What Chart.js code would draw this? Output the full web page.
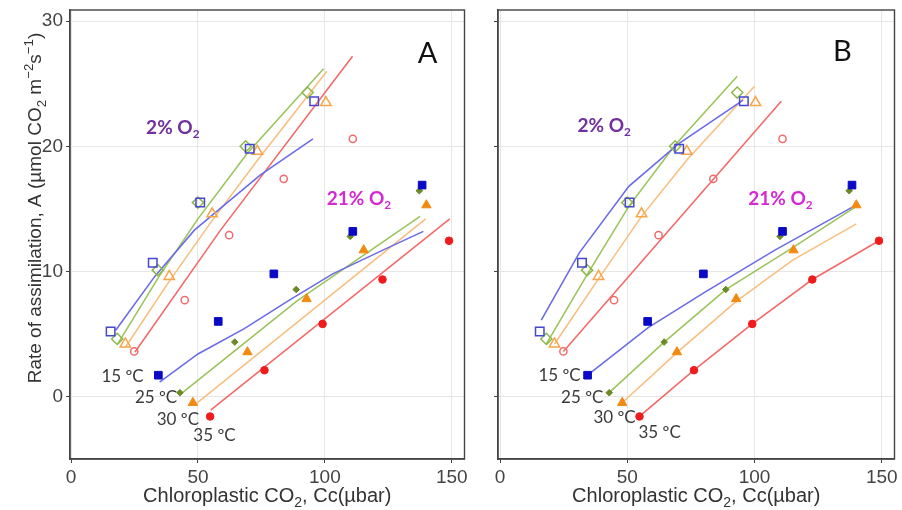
<!DOCTYPE html>
<html>
<head>
<meta charset="utf-8">
<script src="https://cdn.jsdelivr.net/npm/chart.js@4.4.1/dist/chart.umd.min.js"></script>
<style>
  html, body { margin: 0; padding: 0; background: #ffffff; }
  #wrap { position: relative; width: 902px; height: 510px; overflow: hidden; background: #ffffff; }
  #cA { position: absolute; left: 0; top: 0; }
  #cB { position: absolute; left: 472px; top: 0; }
</style>
</head>
<body>
<div id="wrap">
  <canvas id="cA" width="472" height="510"></canvas>
  <canvas id="cB" width="430" height="510"></canvas>
</div>
<script>
// ---- Measured net assimilation A (µmol CO2 m-2 s-1) against chloroplastic CO2 Cc (µbar) ----
// 2% O2
const cc2_15 = [15.6, 32.2, 50.9, 70.4, 95.8];
const a2_15  = [5.2, 10.7, 15.5, 19.8, 23.6];
const cc2_25 = [18.2, 34.2, 50.0, 68.8, 93.2];
const a2_25  = [4.6, 10.1, 15.5, 20.0, 24.3];
const cc2_30 = [21.4, 38.7, 55.6, 73.4, 100.4];
const a2_30  = [4.2, 9.6, 14.6, 19.6, 23.5];
const cc2_35 = [24.9, 44.8, 62.3, 83.8, 111.0];
const a2_35  = [3.6, 7.7, 12.9, 17.4, 20.6];
// 21% O2
const cc21_15 = [34.4, 58.0, 79.9, 111.0, 138.3];
const a21_15  = [1.7, 6.0, 9.8, 13.2, 16.9];
const cc21_25 = [42.9, 64.5, 88.7, 110.0, 137.2];
const a21_25  = [0.3, 4.35, 8.55, 12.8, 16.45];
const cc21_30 = [48.0, 69.5, 92.8, 115.3, 140.0];
const a21_30  = [-0.5, 3.55, 7.8, 11.7, 15.3];
const cc21_35 = [54.8, 76.2, 99.1, 122.7, 148.9];
const a21_35  = [-1.6, 2.1, 5.8, 9.35, 12.45];

// ---- Model curves, panel A: [Cc, A] pairs ----
const fitA2_15 = [[17.6, 5.3], [33, 9.6], [48.6, 13.3], [74.5, 17.7], [95.3, 20.6]];
const fitA2_25 = [[18.4, 4.2], [35, 9.7], [50, 14.2], [69.3, 19.4], [99.5, 26.2]];
const fitA2_30 = [[21.5, 3.95], [38, 9.0], [55, 13.9], [73.9, 19.0], [100.8, 26.0]];
const fitA2_35 = [[25.2, 3.55], [58.9, 13.3], [110.9, 27.2]];
const fitA21_15 = [[34.9, 1.15], [50, 3.4], [68.1, 5.4], [86, 7.7], [103.1, 9.8], [123.9, 11.8], [138.8, 13.2]];
const fitA21_25 = [[42.7, 0.1], [88.8, 7.6], [137.5, 14.4]];
const fitA21_30 = [[48.6, -0.7], [139.7, 14.2]];
const fitA21_35 = [[55.0, -1.1], [149.2, 14.2]];

// ---- Model curves, panel B: [Cc, A] pairs ----
const fitB2_15 = [[16.2, 6.1], [31.2, 11.5], [50.6, 16.8], [70.1, 20.2], [95.5, 23.7]];
const fitB2_25 = [[18.2, 4.2], [34.4, 9.8], [50.6, 15.2], [68.8, 20.1], [93.2, 25.6]];
const fitB2_30 = [[21.4, 4.2], [38.7, 9.4], [55.6, 14.4], [73.4, 18.9], [100, 24.8]];
const fitB2_35 = [[24.9, 3.6], [110.5, 23.6]];
const fitB21_15 = [[34.4, 1.7], [58.2, 5.5], [81, 8.4], [108, 11.7], [139, 15.2]];
const fitB21_25 = [[42.9, 0.3], [64.5, 4.35], [88.7, 8.55], [115, 11.9], [140, 15.2]];
const fitB21_30 = [[48.0, -0.5], [69.5, 3.5], [92.8, 7.6], [115, 10.9], [140, 13.8]];
const fitB21_35 = [[54.8, -1.6], [76.2, 2.1], [99.1, 5.8], [122.7, 9.35], [148.9, 12.45]];

// ---- Labels and ticks ----
const tempLabels = ['15 ºC', '25 ºC', '30 ºC', '35 ºC'];
const xTicks = [0, 50, 100, 150];
const yTicks = [0, 10, 20, 30];

// ---- Styles, one entry per temperature ----
const styles = [
  { shape: 'rect',     open: '#4646D0', solid: '#0A0AC6', line: '#6C6CE6', rOpen: 6.0, rSolid: 5.4 },
  { shape: 'rectRot',  open: '#8DB84A', solid: '#6A8A26', line: '#9CC45C', rOpen: 5.6, rSolid: 3.3 },
  { shape: 'triangle', open: '#F5A54A', solid: '#F28A12', line: '#F8BF80', rOpen: 6.0, rSolid: 5.4 },
  { shape: 'circle',   open: '#F26B6B', solid: '#EE1C1C', line: '#F36A6A', rOpen: 3.6, rSolid: 3.8 }
];

const meas2 = [[cc2_15, a2_15], [cc2_25, a2_25], [cc2_30, a2_30], [cc2_35, a2_35]];
const meas21 = [[cc21_15, a21_15], [cc21_25, a21_25], [cc21_30, a21_30], [cc21_35, a21_35]];

function toPoints(cc, a) { return cc.map((x, i) => ({ x: x, y: a[i] })); }
function pairsToPoints(p) { return p.map(([x, y]) => ({ x: x, y: y })); }

function buildDatasets(fits2, fits21) {
  const ds = [];
  // measured points first so they sit above the curves
  meas21.forEach(([cc, a], i) => {
    const s = styles[i];
    ds.push({ data: toPoints(cc, a), showLine: false, pointStyle: s.shape,
      pointRadius: s.rSolid, pointBackgroundColor: s.solid, pointBorderColor: s.solid, pointBorderWidth: 1 });
  });
  meas2.forEach(([cc, a], i) => {
    const s = styles[i];
    ds.push({ data: toPoints(cc, a), showLine: false, pointStyle: s.shape,
      pointRadius: s.rOpen, pointBackgroundColor: 'rgba(255,255,255,0)', pointBorderColor: s.open, pointBorderWidth: 1.5 });
  });
  fits21.concat(fits2).forEach((f, j) => {
    const s = styles[j % 4];
    ds.push({ data: pairsToPoints(f), showLine: true, pointRadius: 0, borderColor: s.line,
      borderWidth: 1.6, tension: 0, fill: false });
  });
  return ds;
}

// rich text with sub/superscripts: parts = [{text, scale, dy}]
function richText(ctx, parts, x, y, align, size, family, weight, color) {
  const m = parts.map(p => {
    const fs = size * (p.scale || 1);
    ctx.font = weight + ' ' + fs + 'px ' + family;
    return { p: p, fs: fs, w: ctx.measureText(p.text).width };
  });
  const total = m.reduce((s, o) => s + o.w, 0);
  let cx = align === 'center' ? x - total / 2 : (align === 'right' ? x - total : x);
  ctx.fillStyle = color;
  ctx.textAlign = 'left';
  ctx.textBaseline = 'alphabetic';
  m.forEach(o => {
    ctx.font = weight + ' ' + o.fs + 'px ' + family;
    ctx.fillText(o.p.text, cx, y + (o.p.dy || 0) * size);
    cx += o.w;
  });
}

const panelDecor = {
  id: 'panelDecor',
  afterDraw(chart, args, opts) {
    const ctx = chart.ctx, ca = chart.chartArea, xs = chart.scales.x, ys = chart.scales.y;
    ctx.save();
    // panel frame
    ctx.strokeStyle = '#444444';
    ctx.lineWidth = 1.4;
    ctx.strokeRect(ca.left, ca.top, ca.right - ca.left, ca.bottom - ca.top);

    // temperature labels
    ctx.font = '17px Lato';
    ctx.fillStyle = '#3a3a3a';
    ctx.textAlign = 'center';
    ctx.textBaseline = 'middle';
    tempLabels.forEach((t, i) => {
      const p = opts.tempPos[i];
      ctx.fillText(t, xs.getPixelForValue(p[0]), ys.getPixelForValue(p[1]));
    });

    // oxygen labels
    richText(ctx, [{ text: '2% O' }, { text: '2', scale: 0.62, dy: 0.22 }],
      xs.getPixelForValue(opts.lowO2[0]), ys.getPixelForValue(opts.lowO2[1]) + 7,
      'center', 19, 'Lato', 'bold', '#7030A0');
    richText(ctx, [{ text: '21% O' }, { text: '2', scale: 0.62, dy: 0.22 }],
      xs.getPixelForValue(opts.highO2[0]), ys.getPixelForValue(opts.highO2[1]) + 7,
      'center', 19, 'Lato', 'bold', '#D42AD4');

    // panel letter
    ctx.font = '29px Lato';
    ctx.fillStyle = '#111111';
    ctx.textAlign = 'center';
    ctx.textBaseline = 'middle';
    ctx.fillText(opts.letter, xs.getPixelForValue(opts.letterPos[0]), ys.getPixelForValue(opts.letterPos[1]));

    // x-axis title
    richText(ctx, [{ text: 'Chloroplastic CO' }, { text: '2', scale: 0.7, dy: 0.25 }, { text: ', Cc(µbar)' }],
      (ca.left + ca.right) / 2, 502, 'center', 20, '"Liberation Sans", Arial, sans-serif', 'normal', '#333333');

    // y-axis title
    if (opts.yTitle) {
      ctx.save();
      ctx.translate(41, 208);
      ctx.rotate(-Math.PI / 2);
      richText(ctx, [
        { text: 'Rate of assimilation, A (µmol CO' },
        { text: '2', scale: 0.7, dy: 0.25 },
        { text: ' m' },
        { text: '−2', scale: 0.7, dy: -0.42 },
        { text: 's' },
        { text: '−1', scale: 0.7, dy: -0.42 },
        { text: ')' }
      ], 0, 0, 'center', 19, '"Liberation Sans", Arial, sans-serif', 'normal', '#333333');
      ctx.restore();
    }
    ctx.restore();
  }
};

function makeOptions(cfg) {
  return {
    responsive: false,
    animation: false,
    layout: { padding: { top: 10, right: cfg.padRight, bottom: 0, left: 0 } },
    plugins: {
      legend: { display: false },
      tooltip: { enabled: false },
      panelDecor: cfg.decor
    },
    scales: {
      x: {
        type: 'linear', min: cfg.xMin, max: 155,
        afterBuildTicks: s => { s.ticks = xTicks.map(v => ({ value: v })); },
        afterFit: s => { s.height = 51; s.paddingLeft = 0; s.paddingRight = 0; },
        grid: { color: '#e6e6e6', lineWidth: 1, tickColor: '#444444', tickLength: 4, drawTicks: true },
        border: { display: true, color: '#444444', width: 1.4 },
        ticks: { color: '#444444', padding: 3, font: { family: '"Liberation Sans", Arial, sans-serif', size: 19 }, maxRotation: 0 }
      },
      y: {
        type: 'linear', min: -5, max: 30.9,
        afterBuildTicks: s => { s.ticks = yTicks.map(v => ({ value: v })); },
        afterFit: s => { s.width = cfg.yWidth; s.paddingTop = 0; s.paddingBottom = 0; },
        grid: { color: '#e6e6e6', lineWidth: 1, tickColor: '#444444', tickLength: 4, drawTicks: true },
        border: { display: true, color: '#444444', width: 1.4 },
        ticks: { display: cfg.yLabels, color: '#444444', padding: 3, font: { family: '"Liberation Sans", Arial, sans-serif', size: 19 } }
      }
    }
  };
}

new Chart(document.getElementById('cA'), {
  type: 'scatter',
  data: { datasets: buildDatasets([fitA2_15, fitA2_25, fitA2_30, fitA2_35], [fitA21_15, fitA21_25, fitA21_30, fitA21_35]) },
  options: makeOptions({
    padRight: 2, xMin: -0.4, yWidth: 70, yLabels: true,
    decor: {
      letter: 'A', letterPos: [140.5, 27.4], yTitle: true,
      tempPos: [[20.3, 1.6], [33.5, -0.1], [42.1, -1.85], [56.5, -3.1]],
      lowO2: [40.1, 21.55], highO2: [113.4, 15.9]
    }
  }),
  plugins: [panelDecor]
});

new Chart(document.getElementById('cB'), {
  type: 'scatter',
  data: { datasets: buildDatasets([fitB2_15, fitB2_25, fitB2_30, fitB2_35], [fitB21_15, fitB21_25, fitB21_30, fitB21_35]) },
  options: makeOptions({
    padRight: 4, xMin: -0.8, yWidth: 26, yLabels: false,
    decor: {
      letter: 'B', letterPos: [134.5, 27.6], yTitle: false,
      tempPos: [[23.4, 1.7], [32.3, -0.05], [45, -1.65], [62.7, -2.85]],
      lowO2: [40.9, 21.7], highO2: [110.2, 15.9]
    }
  }),
  plugins: [panelDecor]
});
</script>
</body>
</html>
